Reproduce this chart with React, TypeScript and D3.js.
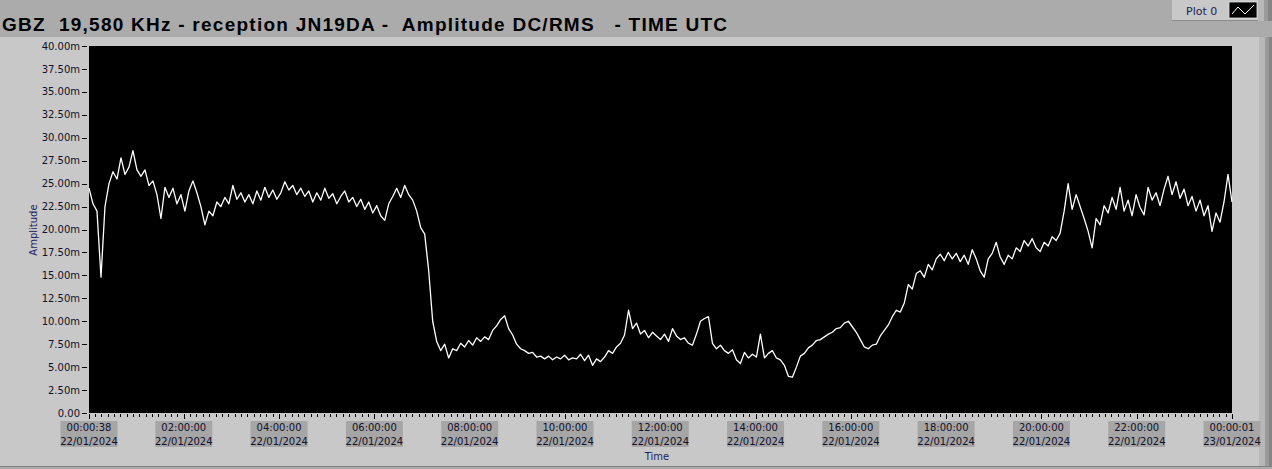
import React from "react";
import * as d3 from "d3";

const TITLE = "GBZ  19,580 KHz - reception JN19DA -  Amplitude DC/RMS   - TIME UTC";
const LEGEND_NAME = "Plot 0";
const Y_LABEL = "Amplitude";
const X_LABEL = "Time";

const START = new Date(Date.UTC(2024, 0, 22, 0, 0, 38));
const END = new Date(Date.UTC(2024, 0, 23, 0, 0, 1));

const yTicks = [0, 2.5, 5, 7.5, 10, 12.5, 15, 17.5, 20, 22.5, 25, 27.5, 30, 32.5, 35, 37.5, 40];

const xMajorTicks = [
  START,
  new Date(Date.UTC(2024, 0, 22, 2)),
  new Date(Date.UTC(2024, 0, 22, 4)),
  new Date(Date.UTC(2024, 0, 22, 6)),
  new Date(Date.UTC(2024, 0, 22, 8)),
  new Date(Date.UTC(2024, 0, 22, 10)),
  new Date(Date.UTC(2024, 0, 22, 12)),
  new Date(Date.UTC(2024, 0, 22, 14)),
  new Date(Date.UTC(2024, 0, 22, 16)),
  new Date(Date.UTC(2024, 0, 22, 18)),
  new Date(Date.UTC(2024, 0, 22, 20)),
  new Date(Date.UTC(2024, 0, 22, 22)),
  END,
];

// amplitude (mV) sampled evenly across the day
const amplitude = [
  24.5, 22.8, 22.0, 14.8, 22.5, 25.0, 26.3, 25.5, 27.8, 26.0, 26.8, 28.6, 26.5, 25.8, 26.5, 24.8,
  25.3, 23.8, 21.2, 24.6, 23.5, 24.5, 22.8, 23.8, 22.0, 24.2, 25.3, 24.0, 22.5, 20.5, 22.0, 21.5,
  23.0, 22.5, 23.5, 22.8, 24.8, 23.3, 24.0, 23.0, 23.8, 22.8, 24.2, 23.2, 24.6, 23.5, 24.3, 23.3,
  24.0, 25.2, 24.3, 24.8, 23.8, 24.5, 23.6, 24.2, 23.0, 24.0, 23.2, 24.5, 23.4, 23.9, 22.8, 23.6,
  24.2, 23.0, 23.5, 22.5, 23.3, 22.2, 23.0, 21.8, 22.6, 21.5, 21.0, 22.8, 23.6, 24.5, 23.5, 24.8,
  23.8, 23.2, 22.0, 20.2, 19.5, 15.5, 10.0, 7.8, 6.8, 7.5, 6.0, 7.0, 6.8, 7.6, 7.2, 7.9,
  7.4, 8.2, 7.8, 8.3, 8.0, 9.0, 9.5, 10.2, 10.6, 9.2, 8.5, 7.5, 7.0, 6.8, 6.5, 6.6,
  6.1, 6.2, 5.9, 6.2, 5.8, 6.1, 5.9, 6.3, 5.8, 6.0, 5.9, 6.4, 5.7, 6.3, 5.2, 5.9,
  5.6, 6.1, 6.8, 6.5, 7.2, 7.6, 8.5, 11.2, 9.2, 9.8, 8.6, 9.0, 8.2, 8.8, 8.4, 8.0,
  8.6, 7.8, 9.2, 8.4, 8.0, 8.2, 7.6, 7.4, 8.6, 10.0, 10.3, 10.5, 7.6, 7.0, 7.4, 6.8,
  6.5, 6.9, 5.8, 5.4, 6.6, 6.0, 6.4, 6.1, 8.6, 6.0, 6.5, 6.8, 6.0, 5.8, 5.2, 4.0,
  3.9, 5.0, 6.2, 6.5, 7.1, 7.4, 7.9, 8.0, 8.3, 8.6, 8.8, 9.2, 9.3, 9.8, 10.0, 9.4,
  8.8, 8.0, 7.2, 7.0, 7.4, 7.5, 8.4, 9.0, 9.6, 10.5, 11.2, 11.0, 12.0, 14.0, 13.5, 15.2,
  15.5, 14.8, 16.2, 15.6, 16.8, 17.3, 16.6, 17.5, 16.8, 17.4, 16.5, 17.2, 16.2, 17.8, 16.8, 15.5,
  14.8, 16.8, 17.4, 18.6, 17.0, 16.2, 17.2, 16.8, 18.0, 17.6, 18.8, 18.2, 19.0, 18.0, 17.6, 18.6,
  18.2, 19.2, 18.8, 19.6, 22.0, 25.0, 22.2, 23.8, 22.5, 21.2, 19.8, 18.0, 21.2, 20.5, 22.6, 21.8,
  23.5, 22.2, 24.6, 22.0, 23.2, 21.5, 23.8, 22.4, 21.6, 24.6, 23.2, 24.0, 22.6, 24.4, 25.8, 23.8,
  25.2, 23.4, 24.4, 22.6, 23.6, 22.0, 23.2, 21.5, 22.6, 19.8, 21.8, 20.8, 23.0, 26.0, 23.0,
];

const W = 1272;
const H = 469;
const PLOT = { left: 89, right: 1232, top: 46, bottom: 413 };
const FONT = "'DejaVu Sans', Tahoma, sans-serif";
const MINOR_STEP_MIN = 8;

export default function App() {
  const x = d3.scaleUtc().domain([START, END]).range([PLOT.left, PLOT.right]);
  const y = d3.scaleLinear().domain([0, 40]).range([PLOT.bottom, PLOT.top]);

  const span = END.getTime() - START.getTime();
  const pts = amplitude.map((v, i) => ({
    t: new Date(START.getTime() + (span * i) / (amplitude.length - 1)),
    v,
  }));
  const line = d3
    .line<{ t: Date; v: number }>()
    .x((d) => x(d.t))
    .y((d) => y(d.v));

  const dayStart = Date.UTC(2024, 0, 22);
  const minor: Date[] = [];
  for (let k = 1; k * MINOR_STEP_MIN < 24 * 60; k++) {
    const d = new Date(dayStart + k * MINOR_STEP_MIN * 60000);
    if (d.getUTCMinutes() !== 0 || d.getUTCHours() % 2 !== 0) minor.push(d);
  }

  const fmtTime = d3.utcFormat("%H:%M:%S");
  const fmtDate = d3.utcFormat("%d/%m/%Y");
  const fmtY = (v: number) => (v === 0 ? "0.00" : v.toFixed(2) + "m");

  return (
    <svg
      width={W}
      height={H}
      style={{ position: "absolute", left: 0, top: 0, display: "block" }}
    >
      <rect x={0} y={0} width={W} height={H} fill="#ababab" />
      {/* legend */}
      <rect x={1172} y={0} width={86} height={21} fill="#c8c8c8" />
      <line x1={1172} y1={20.5} x2={1258} y2={20.5} stroke="#8c8c8c" />
      <text x={1186} y={15} fontFamily={FONT} fontSize={11} fill="#1e1e50">
        {LEGEND_NAME}
      </text>
      <rect x={1229} y={2} width={28} height={16} fill="#000" stroke="#e0e0e0" strokeWidth={0.8} />
      <polyline
        points="1232,14 1238,7 1245,14 1254,5"
        fill="none"
        stroke="#fff"
        strokeWidth={1}
      />
      <rect x={1258} y={0} width={6} height={21} fill="#b8b8b8" />
      <rect x={1264} y={0} width={4} height={21} fill="#9a9a9a" />
      <rect x={1268} y={0} width={4} height={21} fill="#858585" />

      {/* title */}
      <text
        x={2}
        y={31}
        fontFamily="'Liberation Sans', Arial, sans-serif"
        fontWeight="bold"
        fontSize={19}
        fill="#000"
        textLength={725}
        lengthAdjust="spacing"
        style={{ whiteSpace: "pre" }}
      >
        {TITLE}
      </text>

      {/* panel */}
      <rect x={0} y={37} width={1259} height={429} fill="#c8c8c8" />
      <rect x={1259} y={37} width={6} height={429} fill="#b8b8b8" />
      <rect x={1265} y={37} width={4} height={429} fill="#9a9a9a" />
      <rect x={1269} y={37} width={3} height={429} fill="#858585" />
      <line x1={0} y1={466.5} x2={W} y2={466.5} stroke="#808080" />

      {/* plot area */}
      <rect
        x={PLOT.left}
        y={PLOT.top}
        width={PLOT.right - PLOT.left}
        height={PLOT.bottom - PLOT.top}
        fill="#000"
      />
      <path d={line(pts) || ""} fill="none" stroke="#fff" strokeWidth={1.3} strokeLinejoin="round" />

      {/* y axis */}
      {yTicks.map((v) => (
        <g key={v}>
          <line x1={82} x2={87} y1={Math.round(y(v)) + 0.5} y2={Math.round(y(v)) + 0.5} stroke="#000" />
          <text
            x={80}
            y={y(v) + 3.6}
            textAnchor="end"
            fontFamily={FONT}
            fontSize={10}
            fill="#10102a"
          >
            {fmtY(v)}
          </text>
        </g>
      ))}
      <text
        transform={`translate(37,230) rotate(-90)`}
        textAnchor="middle"
        fontFamily={FONT}
        fontSize={10}
        fill="#1e1e60"
      >
        {Y_LABEL}
      </text>

      {/* x axis */}
      {minor.map((d, i) => (
        <line
          key={"m" + i}
          x1={Math.round(x(d)) + 0.5}
          x2={Math.round(x(d)) + 0.5}
          y1={PLOT.bottom + 1}
          y2={PLOT.bottom + 4}
          stroke="#000"
        />
      ))}
      {xMajorTicks.map((d, i) => {
        const px = x(d);
        return (
          <g key={"M" + i}>
            <line
              x1={Math.round(px) + 0.5}
              x2={Math.round(px) + 0.5}
              y1={PLOT.bottom + 1}
              y2={PLOT.bottom + 6}
              stroke="#000"
            />
            <rect x={px - 28.5} y={421} width={57} height={26} fill="#a6a6a6" />
            <text x={px} y={431} textAnchor="middle" fontFamily={FONT} fontSize={10} fill="#10102a">
              {fmtTime(d)}
            </text>
            <text x={px} y={445} textAnchor="middle" fontFamily={FONT} fontSize={10} fill="#10102a">
              {fmtDate(d)}
            </text>
          </g>
        );
      })}
      <text x={657} y={460} textAnchor="middle" fontFamily={FONT} fontSize={10} fill="#1e1e60">
        {X_LABEL}
      </text>
    </svg>
  );
}
